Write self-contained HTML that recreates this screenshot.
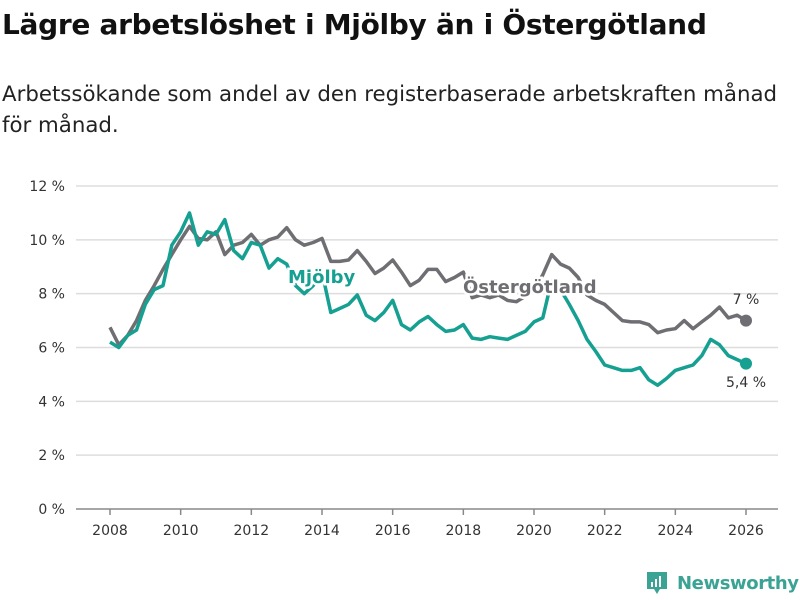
<!DOCTYPE html>
<html><head><meta charset="utf-8"><style>
body{margin:0;background:#fff;}
#wrap{position:relative;width:800px;height:600px;overflow:hidden;font-family:"DejaVu Sans",sans-serif;}
h1{position:absolute;left:2px;top:8px;margin:0;font-size:28px;font-weight:bold;color:#111;letter-spacing:-0.3px;}
p.sub{position:absolute;left:2px;top:79px;margin:0;font-size:21.3px;line-height:31px;color:#222;width:790px;}
</style></head><body>
<div id="wrap">
<h1>Lägre arbetslöshet i Mjölby än i Östergötland</h1>
<p class="sub">Arbetssökande som andel av den registerbaserade arbetskraften månad för månad.</p>
<svg id="chart" width="800" height="600" style="position:absolute;left:0;top:0"></svg>
<div style="position:absolute;left:645px;top:570px;display:flex;align-items:center;">
<svg width="24" height="26"><path d="M2 2h20v17h-7l-3 5-3-5H2z" fill="#3aa394"/><rect x="6" y="12" width="2" height="5" fill="#fff"/><rect x="10" y="9" width="2" height="8" fill="#fff"/><rect x="14" y="6" width="2" height="11" fill="#fff"/></svg>
<span style="margin-left:8px;font-size:18px;color:#3aa394;font-weight:bold;letter-spacing:-0.4px;">Newsworthy</span></div>
</div>
<script>
const startYear = 2008;
const step = 0.25;
const ostergotland = [6.75,6.1,6.45,7.0,7.75,8.3,8.9,9.45,10.0,10.5,10.05,10.0,10.3,9.45,9.8,9.9,10.2,9.8,10.0,10.1,10.45,10.0,9.8,9.9,10.05,9.2,9.2,9.25,9.6,9.2,8.75,8.95,9.25,8.8,8.3,8.5,8.9,8.9,8.45,8.6,8.8,7.85,7.95,7.85,7.95,7.75,7.7,7.9,8.15,8.7,9.45,9.1,8.95,8.6,7.95,7.75,7.6,7.3,7.0,6.95,6.95,6.85,6.55,6.65,6.7,7.0,6.7,6.95,7.2,7.5,7.1,7.2,7.0];
const mjolby = [6.2,6.0,6.45,6.65,7.6,8.15,8.3,9.8,10.3,11.0,9.8,10.3,10.2,10.75,9.6,9.3,9.9,9.8,8.95,9.3,9.1,8.3,8.0,8.3,8.8,7.3,7.45,7.6,7.95,7.2,7.0,7.3,7.75,6.85,6.65,6.95,7.15,6.85,6.6,6.65,6.85,6.35,6.3,6.4,6.35,6.3,6.45,6.6,6.95,7.1,8.5,8.15,7.6,7.0,6.3,5.85,5.35,5.25,5.15,5.15,5.25,4.8,4.6,4.85,5.15,5.25,5.35,5.7,6.3,6.1,5.7,5.55,5.4];
const yTicks = [0,2,4,6,8,10,12];
const xTicks = [2008,2010,2012,2014,2016,2018,2020,2022,2024,2026];

const svg = document.getElementById('chart');
const NS = 'http://www.w3.org/2000/svg';
const FONT = 'DejaVu Sans, sans-serif';
const x = yr => 110 + (yr - 2008) * (746 - 110) / 18;
const y = v => 509 - v * (509 - 186) / 12;
function mk(tag, attrs, parent){const e=document.createElementNS(NS,tag);for(const k in attrs)e.setAttribute(k,attrs[k]);(parent||svg).appendChild(e);return e;}

yTicks.forEach(t=>{
  const l=mk('line',{x1:76,x2:778,y1:y(t),y2:y(t),stroke:t===0?'#888':'#ddd','stroke-width':1.5});
  
  
  const tx=mk('text',{x:65,y:y(t)+5,'text-anchor':'end','font-size':14,fill:'#333','font-family':FONT});
  tx.textContent=t+' %';
  
  
});
xTicks.forEach(t=>{
  const l=mk('line',{x1:x(t),x2:x(t),y1:509,y2:515,stroke:'#888','stroke-width':1.5});
  
  
  const tx=mk('text',{x:x(t),y:535,'text-anchor':'middle','font-size':14,fill:'#333','font-family':FONT});
  tx.textContent=t;
  
  
});
function series(arr,color,name){
  const d=arr.map((v,i)=>(i?'L':'M')+x(startYear+i*step).toFixed(1)+' '+y(v).toFixed(1)).join(' ');
  const p=mk('path',{d:d,fill:'none',stroke:color,'stroke-width':3.5,'stroke-linejoin':'round'});
  
  
  const last=arr.length-1;
  const c=mk('circle',{cx:x(startYear+last*step),cy:y(arr[last]),r:6,fill:color});
  
  
}
series(ostergotland,'#6f6e73','ostergotland');
series(mjolby,'#16a092','mjolby');
function label(txt,xp,yp,color,size,bold,name,anchor){
  const t=mk('text',{x:xp,y:yp,fill:color,'font-size':size,'font-weight':bold?'bold':'normal','font-family':FONT,stroke:'#fff','stroke-width':bold?5:0,'paint-order':'stroke','text-anchor':anchor||'start'});
  t.textContent=txt;
  
  
}
label('Mjölby',288,283,'#16a092',18,true,'mjolby-series-label');
label('Östergötland',463,293,'#6f6e73',18,true,'ostergotland-series-label');
const lo=ostergotland.length-1;
label(ostergotland[lo].toString().replace('.',',')+' %',746,304,'#333',14,false,'ostergotland-end-value','middle');
label(mjolby[lo].toString().replace('.',',')+' %',746,387,'#333',14,false,'mjolby-end-value','middle');
</script>
</body></html>
